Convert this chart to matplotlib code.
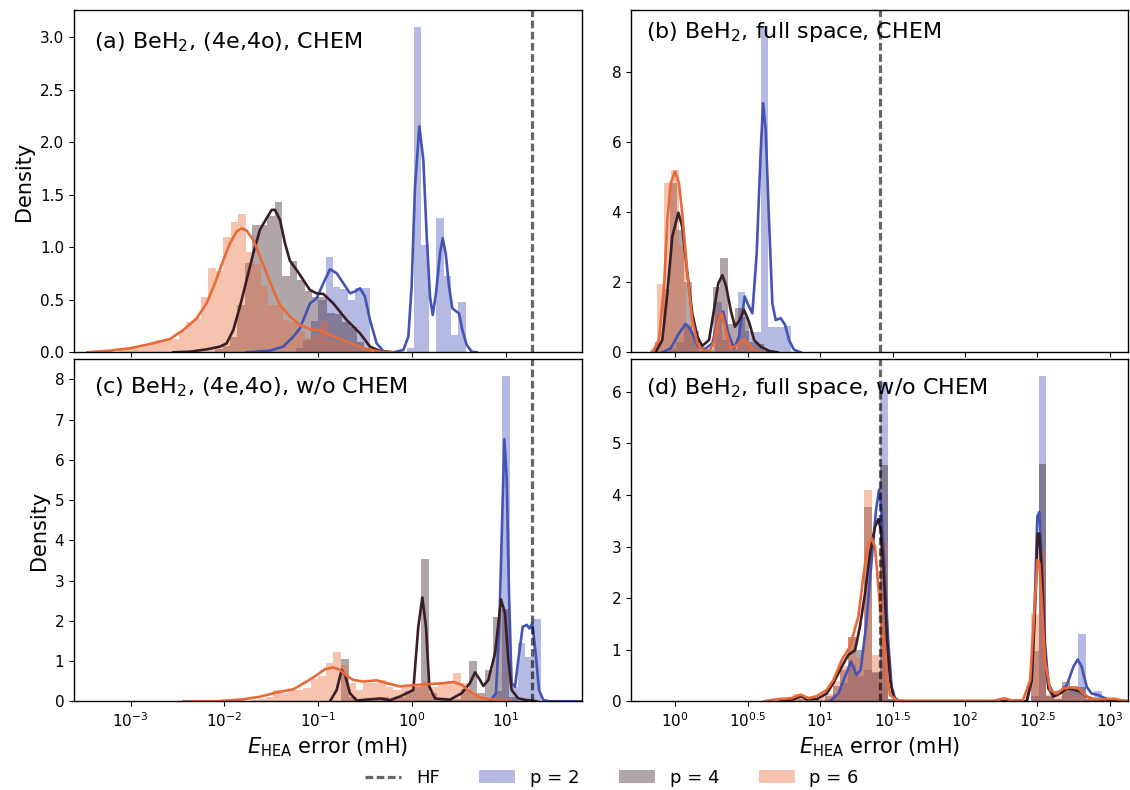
import numpy as np
import matplotlib
matplotlib.use("Agg")
import matplotlib.pyplot as plt
from matplotlib.lines import Line2D
from matplotlib.patches import Patch

# ---------------- data (x in log10 of error / mH) ----------------
series_labels = ["p = 2", "p = 4", "p = 6"]
panel_titles = ["(a) BeH$_2$, (4e,4o), CHEM", "(b) BeH$_2$, full space, CHEM",
                "(c) BeH$_2$, (4e,4o), w/o CHEM", "(d) BeH$_2$, full space, w/o CHEM"]
hf_left = 1.281    # log10 HF error, active space
hf_right = 1.414   # log10 HF error, full space
left_ticks = [-3, -2, -1, 0, 1]
left_ticklabels = ["$10^{-3}$", "$10^{-2}$", "$10^{-1}$", "$10^{0}$", "$10^{1}$"]
right_ticks = [0, 0.5, 1, 1.5, 2, 2.5, 3]
right_ticklabels = ["$10^{0}$", "$10^{0.5}$", "$10^{1}$", "$10^{1.5}$", "$10^{2}$", "$10^{2.5}$", "$10^{3}$"]

# ---- panel (a)
a_p2_bin0, a_p2_w = -1.237, 0.0786
a_p2_h = [0.04, 0.12, 0.30, 0.50, 0.905, 0.625, 0.60, 0.50, 0.61, 0.61, 0, 0, 0, 0, 0,
          0.04, 3.10, 1.02, 0.0, 1.28, 0.73, 0.165, 0.476]
a_p4_bin0, a_p4_w = -2.100, 0.0796
a_p4_h = [0.03, 0.06, 0.15, 0.45, 0.85, 1.21, 1.21, 1.30, 1.43, 0.73, 0.87, 0.69, 0.58, 0.53,
          0.53, 0.37, 0.36, 0.29, 0.24, 0.10, 0.04]
a_p6_bin0, a_p6_w = -3.122, 0.0793
a_p6_h = [0.03, 0.03, 0.04, 0.06, 0.09, 0.12, 0.12, 0.13, 0.20, 0.29, 0.33, 0.53, 0.80, 0.77,
          1.10, 1.24, 1.32, 0.95, 0.84, 0.63, 0.45, 0.45, 0.31, 0.29, 0.20, 0.14, 0.17, 0.30,
          0.12, 0.10, 0.08, 0.05, 0.03, 0.01]
a_p2_kx = [-1.764, -1.515, -1.373, -1.266, -1.195, -1.088, -1.017, -0.946, -0.875, -0.804,
           -0.733, -0.662, -0.609, -0.555, -0.502, -0.449, -0.378, -0.307, -0.200, -0.093,
           -0.040, -0.005, 0.031, 0.077, 0.120, 0.156, 0.191, 0.220, 0.255, 0.298, 0.326,
           0.358, 0.394, 0.429, 0.465, 0.500, 0.536, 0.582, 0.635, 0.688]
a_p2_ky = [0.0, 0.016, 0.054, 0.149, 0.228, 0.466, 0.514, 0.657, 0.790, 0.752, 0.657, 0.562,
           0.578, 0.609, 0.530, 0.308, 0.086, 0.012, 0.0, 0.022, 0.149, 0.625, 1.577, 2.149,
           1.832, 1.101, 0.530, 0.355, 0.562, 0.943, 1.086, 0.943, 0.625, 0.419, 0.393, 0.371,
           0.213, 0.070, 0.006, 0.0]
a_p4_kx = [-2.546, -2.368, -2.190, -2.048, -1.977, -1.906, -1.835, -1.764, -1.693, -1.622,
           -1.551, -1.497, -1.462, -1.408, -1.355, -1.302, -1.231, -1.160, -1.089, -1.018,
           -0.946, -0.840, -0.698, -0.555, -0.449, -0.342, -0.236]
a_p4_ky = [0.0, 0.006, 0.028, 0.054, 0.085, 0.212, 0.435, 0.688, 0.942, 1.165, 1.276, 1.355,
           1.355, 1.260, 1.038, 0.870, 0.784, 0.688, 0.593, 0.561, 0.555, 0.466, 0.308, 0.181,
           0.054, 0.012, 0.0]
a_p6_kx = [-3.46, -3.221, -3.008, -2.794, -2.581, -2.439, -2.297, -2.190, -2.101, -2.012,
           -1.941, -1.870, -1.817, -1.764, -1.693, -1.622, -1.551, -1.480, -1.408, -1.302,
           -1.195, -1.089, -1.000, -0.875, -0.698, -0.520, -0.342, -0.200]
a_p6_ky = [0.0, 0.016, 0.038, 0.079, 0.127, 0.212, 0.323, 0.466, 0.657, 0.879, 1.038, 1.149,
           1.180, 1.158, 1.070, 0.911, 0.752, 0.593, 0.450, 0.340, 0.260, 0.220, 0.212, 0.165,
           0.101, 0.038, 0.006, 0.0]

# ---- panel (b)
b_p2_bin0, b_p2_w = -0.046, 0.053
b_p2_h = [0.1, 0.3, 0.75, 0.45, 0.05, 0.0, 1.44, 0.35, 0.1, 1.73, 0.6, 0.58, 9.3, 0.72, 0.72, 0.75]
b_p4_bin0, b_p4_w = -0.138, 0.05
b_p4_h = [0.3, 1.8, 4.84, 3.5, 2.0, 0.6, 0.15, 0.1, 1.87, 2.68, 0.8, 1.25, 1.0, 0.3, 0.25, 0.05]
b_p6_bin0, b_p6_w = -0.177, 0.05
b_p6_h = [0.1, 1.95, 4.84, 5.19, 3.07, 0.8, 0.2, 0.05, 0.05, 1.15, 0.6, 0.1, 0.35, 0.3, 0.05]
b_p2_kx = [-0.090, -0.032, 0.025, 0.071, 0.106, 0.152, 0.198, 0.256, 0.297, 0.331, 0.366,
           0.405, 0.440, 0.479, 0.504, 0.532, 0.562, 0.589, 0.606, 0.624, 0.647, 0.670, 0.693,
           0.728, 0.758, 0.785, 0.820, 0.866]
b_p2_ky = [0.0, 0.11, 0.54, 0.81, 0.64, 0.21, 0.07, 0.26, 0.97, 1.16, 0.54, 0.11, 0.45, 1.59,
           1.35, 1.11, 2.82, 5.67, 7.10, 6.34, 3.77, 1.40, 0.92, 0.97, 0.78, 0.35, 0.07, 0.0]
b_p4_kx = [-0.136, -0.090, -0.055, -0.021, 0.021, 0.048, 0.083, 0.117, 0.152, 0.186, 0.233,
           0.267, 0.297, 0.325, 0.352, 0.382, 0.412, 0.444, 0.474, 0.509, 0.544, 0.590, 0.647,
           0.705]
b_p4_ky = [0.0, 0.35, 1.68, 3.30, 3.98, 3.58, 2.25, 1.11, 0.45, 0.18, 0.35, 1.21, 1.97, 2.20,
           1.87, 1.21, 0.73, 0.92, 1.21, 0.87, 0.35, 0.16, 0.04, 0.0]
b_p6_kx = [-0.159, -0.113, -0.078, -0.055, -0.032, -0.002, 0.025, 0.048, 0.083, 0.117, 0.152,
           0.186, 0.233, 0.267, 0.297, 0.320, 0.348, 0.382, 0.428, 0.474, 0.509, 0.544, 0.601]
b_p6_ky = [0.0, 0.35, 1.87, 3.77, 4.82, 5.15, 4.82, 3.96, 2.25, 0.92, 0.26, 0.07, 0.02, 0.30,
           0.92, 1.11, 0.64, 0.11, 0.21, 0.37, 0.21, 0.04, 0.0]

# ---- panel (c)
c_p2_bin0, c_p2_w = 0.880, 0.082
c_p2_h = [0.25, 8.08, 0.35, 1.44, 1.11, 2.04]
c_p4_bin0, c_p4_w = -0.755, 0.085
c_p4_h = [1.05, 0.1, 0.0, 0.03, 0.05, 0.1, 0.05, 0.1, 0.25, 0.35, 3.54, 0.2, 0.05, 0.05, 0.05,
          0.3, 1.0, 0.2, 0.78, 2.09, 2.3, 0.1]
c_p6_bin0, c_p6_w = -1.719, 0.08
c_p6_h = [0.03, 0.05, 0.1, 0.27, 0.2, 0.28, 0.28, 0.34, 0.55, 0.63, 0.96, 1.22, 0.89, 0.45, 0.28,
          0.45, 0.46, 0.53, 0.36, 0.27, 0.36, 0.40, 0.40, 0.5, 0.35, 0.42, 0.5, 0.7, 0.45, 0.2,
          0.1, 0.05, 0.03]
c_p2_kx = [0.830, 0.894, 0.930, 0.958, 0.983, 1.008, 1.033, 1.061, 1.097, 1.132, 1.179, 1.221,
           1.250, 1.282, 1.317, 1.353, 1.399, 1.470, 1.808]
c_p2_ky = [0.0, 0.2, 1.85, 4.34, 6.51, 5.58, 2.68, 0.45, 0.36, 1.03, 1.85, 1.90, 1.81, 1.94,
           1.19, 0.28, 0.03, 0.0, 0.0]
c_p4_kx = [-0.875, -0.804, -0.751, -0.715, -0.662, -0.591, -0.342, -0.236, -0.129, -0.058,
           0.013, 0.066, 0.109, 0.148, 0.184, 0.244, 0.404, 0.528, 0.617, 0.671, 0.724, 0.759,
           0.813, 0.884, 0.948, 0.990, 1.026, 1.061, 1.132, 1.221, 1.328]
c_p4_ky = [0.0, 0.28, 0.78, 0.65, 0.2, 0.02, 0.07, 0.03, 0.12, 0.2, 0.28, 1.85, 2.58, 1.85,
           0.36, 0.07, 0.04, 0.2, 0.45, 0.72, 0.53, 0.38, 0.53, 1.19, 2.53, 2.19, 1.03, 0.28,
           0.07, 0.03, 0.0]
c_p6_kx = [-2.439, -2.083, -1.799, -1.621, -1.444, -1.266, -1.124, -1.017, -0.928, -0.840,
           -0.768, -0.697, -0.626, -0.520, -0.378, -0.271, -0.129, 0.006, 0.191, 0.333, 0.440,
           0.528, 0.617, 0.724, 0.830, 0.937, 1.044]
c_p6_ky = [0.0, 0.0, 0.05, 0.115, 0.22, 0.30, 0.49, 0.65, 0.80, 0.84, 0.78, 0.63, 0.53, 0.49,
           0.52, 0.45, 0.37, 0.40, 0.43, 0.45, 0.48, 0.41, 0.24, 0.10, 0.05, 0.03, 0.02]

# ---- panel (d)
d_bin0, d_w = 0.7576, 0.0547
d_p2_h = [0, 0, 0, 0, 0, 0.05, 0.15, 0.35, 0.7, 0.5, 0.6, 0.55, 6.19, 0.05, 0, 0, 0, 0, 0, 0,
          0, 0, 0, 0, 0, 0, 0, 0, 0, 0, 0, 0.1, 6.30, 0.1, 0.05, 0.3, 0.25, 1.3, 0.05, 0.19]
d_p4_h = [0, 0.1, 0.05, 0, 0.03, 0.1, 0.3, 0.6, 1.24, 1.0, 3.77, 0.57, 4.58, 0.05, 0, 0, 0, 0,
          0, 0, 0, 0, 0, 0, 0, 0, 0, 0, 0, 0, 0, 0.98, 4.59, 0.1, 0.05, 0.37, 0.3, 0.27, 0.05]
d_p6_h = [0.03, 0.15, 0.05, 0.05, 0.08, 0.15, 0.4, 0.68, 1.25, 0.85, 4.1, 0.9, 3.1, 0.02, 0, 0,
          0, 0, 0, 0, 0, 0, 0, 0, 0, 0, 0, 0.03, 0, 0, 0, 1.7, 2.96, 0.15, 0.1, 0.3, 0.15, 0.1,
          0.05, 0.05, 0.03, 0.03]
d_p2_kx = [1.068, 1.126, 1.172, 1.213, 1.252, 1.280, 1.317, 1.356, 1.386, 1.407, 1.425, 1.448,
           1.471, 1.494, 1.517, 1.552, 2.426, 2.461, 2.484, 2.500, 2.514, 2.530, 2.553, 2.576,
           2.611, 2.657, 2.703, 2.749, 2.779, 2.806, 2.841, 2.875, 2.921, 2.967, 3.03, 3.13]
d_p2_ky = [0.0, 0.15, 0.48, 0.77, 0.51, 0.61, 1.45, 2.74, 3.71, 4.10, 3.71, 2.41, 1.12, 0.28,
           0.06, 0.0, 0.0, 0.41, 2.09, 3.58, 3.67, 2.74, 1.12, 0.35, 0.15, 0.19, 0.31, 0.67,
           0.81, 0.67, 0.28, 0.15, 0.12, 0.06, 0.0, 0.0]
d_p4_kx = [0.723, 0.815, 0.866, 0.907, 0.976, 1.045, 1.091, 1.149, 1.195, 1.241, 1.275, 1.310,
           1.345, 1.379, 1.402, 1.420, 1.437, 1.460, 1.483, 1.506, 1.540, 2.426, 2.461, 2.484,
           2.503, 2.514, 2.530, 2.553, 2.576, 2.611, 2.657, 2.703, 2.749, 2.795, 2.841, 2.887,
           2.933, 3.13]
d_p4_ky = [0.0, 0.04, 0.10, 0.04, 0.04, 0.15, 0.35, 0.67, 0.90, 0.99, 1.45, 2.09, 2.87, 3.38,
           3.53, 3.32, 2.61, 1.32, 0.41, 0.09, 0.0, 0.0, 0.41, 1.77, 3.25, 3.25, 2.48, 0.93,
           0.25, 0.09, 0.15, 0.25, 0.23, 0.19, 0.09, 0.04, 0.0, 0.0]
d_p6_kx = [0.613, 0.70, 0.80, 0.866, 0.92, 0.976, 1.045, 1.091, 1.126, 1.149, 1.206, 1.264,
           1.298, 1.326, 1.356, 1.379, 1.402, 1.425, 1.448, 1.460, 1.483, 1.53, 1.60, 2.20,
           2.27, 2.32, 2.40, 2.45, 2.484, 2.500, 2.514, 2.530, 2.553, 2.588, 2.634, 2.680,
           2.726, 2.783, 2.829, 2.875, 2.95, 3.03, 3.08, 3.13]
d_p6_ky = [0.0, 0.04, 0.06, 0.13, 0.06, 0.10, 0.22, 0.41, 0.64, 0.80, 1.06, 1.64, 2.41, 2.99,
           3.16, 2.99, 2.22, 1.45, 0.93, 0.48, 0.12, 0.02, 0.01, 0.01, 0.06, 0.02, 0.02, 0.40,
           1.96, 2.74, 2.67, 1.96, 0.80, 0.22, 0.15, 0.25, 0.27, 0.25, 0.12, 0.04, 0.04, 0.05,
           0.02, 0.01]

# ---------------- styling ----------------
line_colors = ["#4454b6", "#3a1e27", "#ea6a37"]
W, H = 1130, 790
fig = plt.figure(figsize=(W / 100, H / 100), dpi=100)

ax_pos = [
    [74 / W, 1 - 352.3 / H, 507.7 / W, 342.3 / H],
    [631 / W, 1 - 352.3 / H, 497 / W, 342.3 / H],
    [74 / W, 1 - 701.3 / H, 507.7 / W, 342.0 / H],
    [631 / W, 1 - 701.3 / H, 497 / W, 342.0 / H],
]
xlims = [(-3.604, 1.808), (-0.306, 3.126), (-3.604, 1.808), (-0.306, 3.126)]
ylims = [(0, 3.257), (0, 9.758), (0, 8.497), (0, 6.628)]
yticks = [np.arange(0, 3.01, 0.5), [0, 2, 4, 6, 8], np.arange(0, 9, 1), np.arange(0, 7, 1)]
title_xy = [(0.040, 0.906), (0.031, 0.936), (0.040, 0.919), (0.031, 0.916)]
hf_vals = [hf_left, hf_right, hf_left, hf_right]

hists = [
    [(a_p2_bin0, a_p2_w, a_p2_h), (a_p4_bin0, a_p4_w, a_p4_h), (a_p6_bin0, a_p6_w, a_p6_h)],
    [(b_p2_bin0, b_p2_w, b_p2_h), (b_p4_bin0, b_p4_w, b_p4_h), (b_p6_bin0, b_p6_w, b_p6_h)],
    [(c_p2_bin0, c_p2_w, c_p2_h), (c_p4_bin0, c_p4_w, c_p4_h), (c_p6_bin0, c_p6_w, c_p6_h)],
    [(d_bin0, d_w, d_p2_h), (d_bin0, d_w, d_p4_h), (d_bin0, d_w, d_p6_h)],
]
kdes = [
    [(a_p2_kx, a_p2_ky), (a_p4_kx, a_p4_ky), (a_p6_kx, a_p6_ky)],
    [(b_p2_kx, b_p2_ky), (b_p4_kx, b_p4_ky), (b_p6_kx, b_p6_ky)],
    [(c_p2_kx, c_p2_ky), (c_p4_kx, c_p4_ky), (c_p6_kx, c_p6_ky)],
    [(d_p2_kx, d_p2_ky), (d_p4_kx, d_p4_ky), (d_p6_kx, d_p6_ky)],
]

for i in range(4):
    ax = fig.add_axes(ax_pos[i])
    for s in range(3):
        b0, w, h = hists[i][s]
        h = np.asarray(h, dtype=float)
        edges = b0 + w * np.arange(len(h))
        ax.bar(edges, h, width=w, align="edge", color=line_colors[s], alpha=0.4,
               edgecolor=line_colors[s], linewidth=0.0)
        kx, ky = kdes[i][s]
        ax.plot(kx, ky, color=line_colors[s], lw=1.9, solid_joinstyle="round")
    ax.axvline(hf_vals[i], color="black", alpha=0.6, lw=2.3, dashes=(2.4, 1.1))
    ax.set_xlim(*xlims[i])
    ax.set_ylim(*ylims[i])
    ax.set_yticks(yticks[i])
    if i == 0:
        ax.set_yticklabels(["{:.1f}".format(v) for v in yticks[i]], fontsize=11)
    else:
        ax.set_yticklabels(["{:d}".format(int(v)) for v in yticks[i]], fontsize=11)
    if i % 2 == 0:
        ax.set_xticks(left_ticks)
        ax.set_xticklabels(left_ticklabels if i >= 2 else [""] * len(left_ticks), fontsize=11)
        ax.set_ylabel("Density", fontsize=15)
    else:
        ax.set_xticks(right_ticks)
        ax.set_xticklabels(right_ticklabels if i >= 2 else [""] * len(right_ticks), fontsize=11)
    if i >= 2:
        ax.set_xlabel(r"$E_\mathrm{HEA}$ error (mH)", fontsize=15)
    ax.text(title_xy[i][0], title_xy[i][1], panel_titles[i], transform=ax.transAxes,
            fontsize=16, va="center", ha="left", zorder=1)
    for sp in ax.spines.values():
        sp.set_linewidth(1.0)

handles = [Line2D([0], [0], color="black", alpha=0.6, lw=2.3, dashes=(2.4, 1.1))]
handles += [Patch(facecolor=c, alpha=0.4, edgecolor="none") for c in line_colors]
fig.legend(handles, ["HF"] + series_labels, loc="center", bbox_to_anchor=(0.5416, 0.0152),
           ncol=4, frameon=False, fontsize=13, columnspacing=2.2, handlelength=2.0)

fig.savefig("out.png", dpi=100)
